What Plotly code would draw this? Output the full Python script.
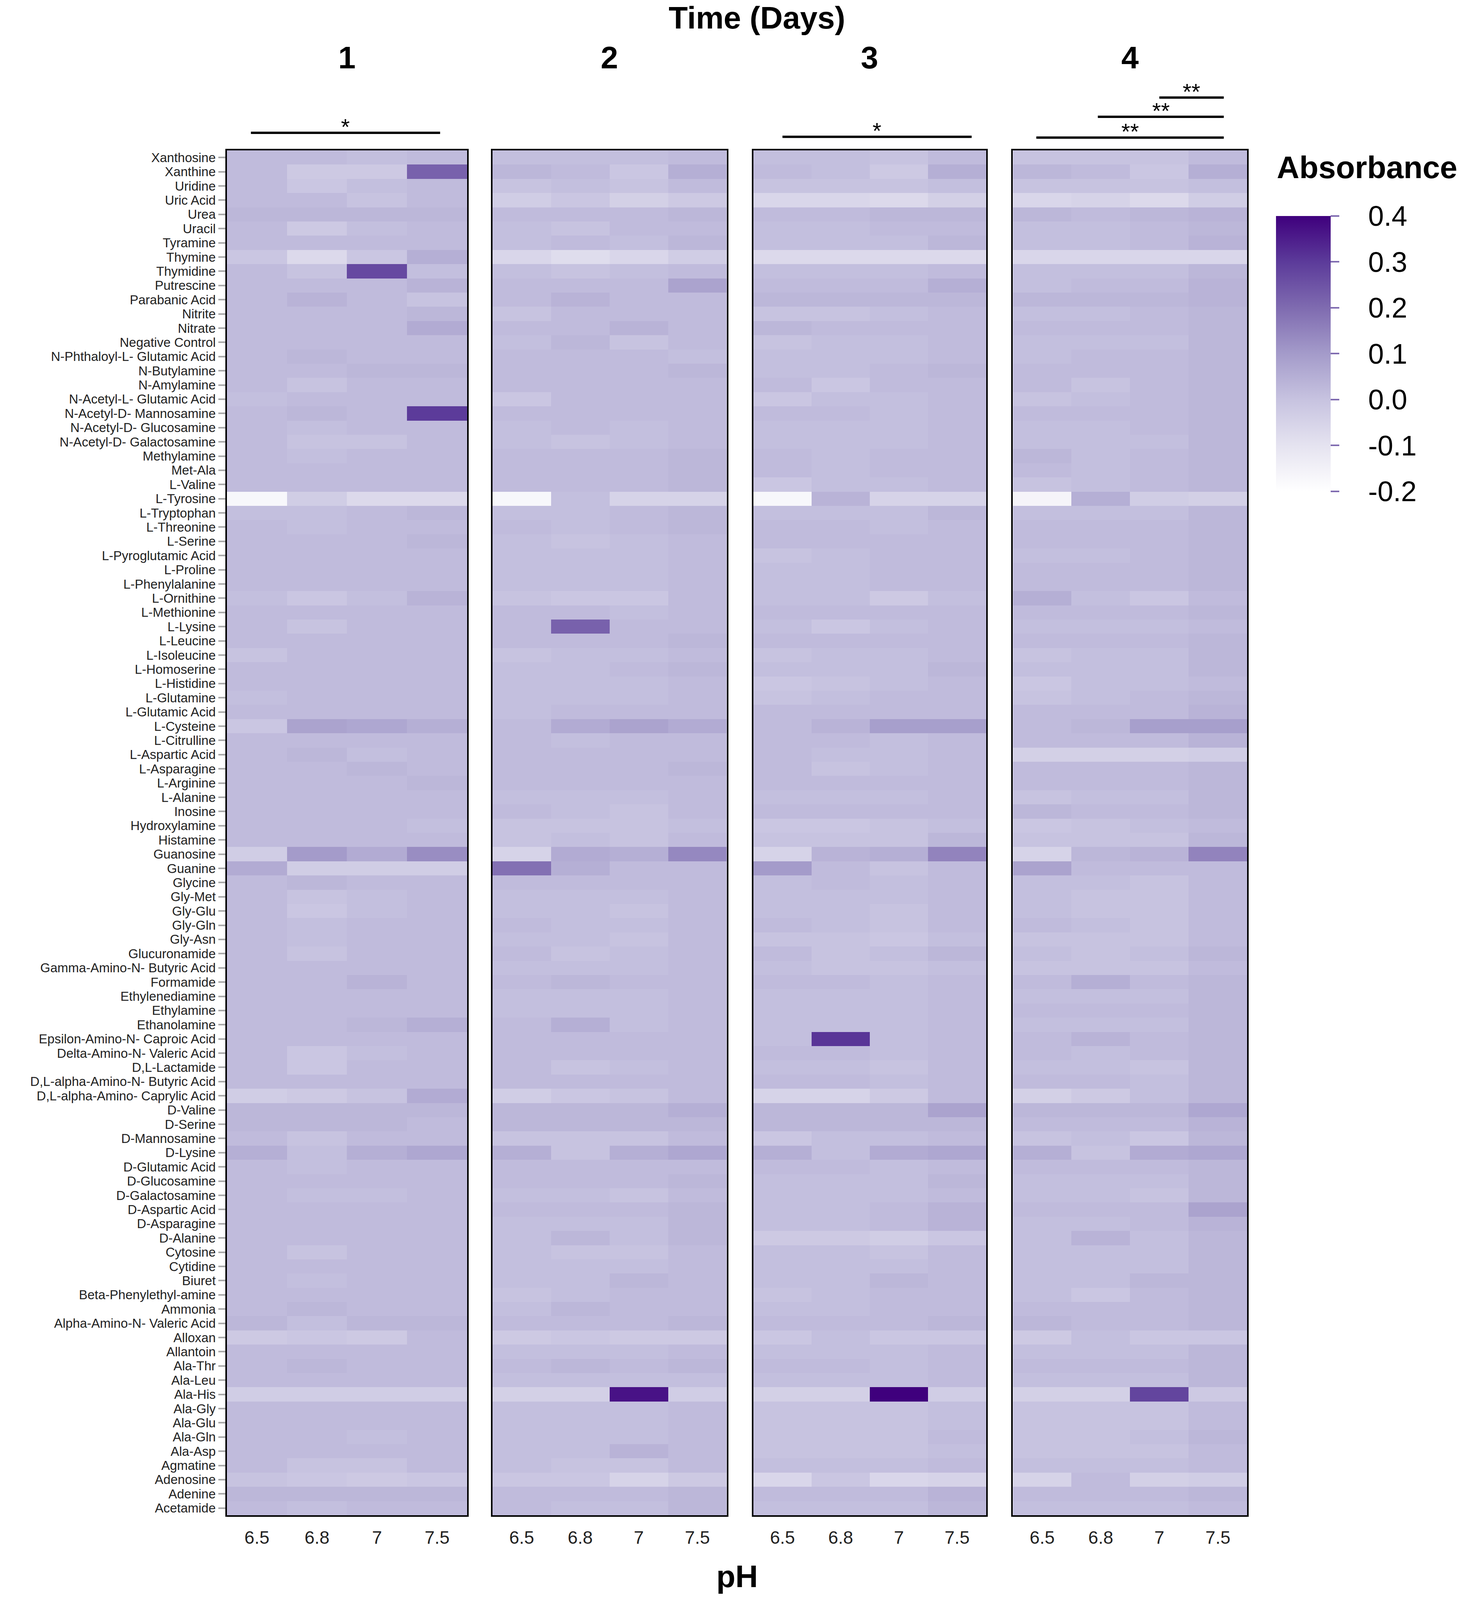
import plotly.graph_objects as go
from plotly.subplots import make_subplots

compounds = [
    "Xanthosine", "Xanthine", "Uridine", "Uric Acid", "Urea", "Uracil", "Tyramine",
    "Thymine", "Thymidine", "Putrescine", "Parabanic Acid", "Nitrite", "Nitrate",
    "Negative Control", "N-Phthaloyl-L- Glutamic Acid", "N-Butylamine", "N-Amylamine",
    "N-Acetyl-L- Glutamic Acid", "N-Acetyl-D- Mannosamine", "N-Acetyl-D- Glucosamine",
    "N-Acetyl-D- Galactosamine", "Methylamine", "Met-Ala", "L-Valine", "L-Tyrosine",
    "L-Tryptophan", "L-Threonine", "L-Serine", "L-Pyroglutamic Acid", "L-Proline",
    "L-Phenylalanine", "L-Ornithine", "L-Methionine", "L-Lysine", "L-Leucine",
    "L-Isoleucine", "L-Homoserine", "L-Histidine", "L-Glutamine", "L-Glutamic Acid",
    "L-Cysteine", "L-Citrulline", "L-Aspartic Acid", "L-Asparagine", "L-Arginine",
    "L-Alanine", "Inosine", "Hydroxylamine", "Histamine", "Guanosine", "Guanine",
    "Glycine", "Gly-Met", "Gly-Glu", "Gly-Gln", "Gly-Asn", "Glucuronamide",
    "Gamma-Amino-N- Butyric Acid", "Formamide", "Ethylenediamine", "Ethylamine",
    "Ethanolamine", "Epsilon-Amino-N- Caproic Acid", "Delta-Amino-N- Valeric Acid",
    "D,L-Lactamide", "D,L-alpha-Amino-N- Butyric Acid", "D,L-alpha-Amino- Caprylic Acid",
    "D-Valine", "D-Serine", "D-Mannosamine", "D-Lysine", "D-Glutamic Acid",
    "D-Glucosamine", "D-Galactosamine", "D-Aspartic Acid", "D-Asparagine", "D-Alanine",
    "Cytosine", "Cytidine", "Biuret", "Beta-Phenylethyl-amine", "Ammonia",
    "Alpha-Amino-N- Valeric Acid", "Alloxan", "Allantoin", "Ala-Thr", "Ala-Leu",
    "Ala-His", "Ala-Gly", "Ala-Glu", "Ala-Gln", "Ala-Asp", "Agmatine", "Adenosine",
    "Adenine", "Acetamide",
]
ph_labels = ["6.5", "6.8", "7", "7.5"]
day_labels = ["1", "2", "3", "4"]

# absorbance per compound (rows) at pH 6.5, 6.8, 7, 7.5
day1 = [
    [0.02, 0.02, 0.01, 0.02], [0.02, -0.02, -0.02, 0.22], [0.02, -0.01, 0.01, 0.02],
    [0.02, 0.02, 0.0, 0.02], [0.03, 0.03, 0.03, 0.03], [0.02, -0.02, 0.01, 0.02],
    [0.02, 0.02, 0.02, 0.02], [-0.01, -0.07, -0.01, 0.05], [0.02, 0.0, 0.27, 0.01],
    [0.02, 0.02, 0.02, 0.04], [0.02, 0.04, 0.02, 0.0], [0.02, 0.02, 0.02, 0.03],
    [0.02, 0.02, 0.02, 0.06], [0.02, 0.02, 0.02, 0.02], [0.02, 0.03, 0.02, 0.02],
    [0.02, 0.02, 0.03, 0.03], [0.02, 0.0, 0.02, 0.02], [0.01, 0.02, 0.02, 0.02],
    [0.02, 0.03, 0.02, 0.30], [0.02, 0.01, 0.02, 0.02], [0.02, 0.0, 0.0, 0.02],
    [0.02, 0.01, 0.02, 0.02], [0.02, 0.02, 0.02, 0.02], [0.02, 0.02, 0.02, 0.02],
    [-0.17, -0.03, -0.07, -0.07], [0.01, 0.01, 0.02, 0.03], [0.02, 0.01, 0.02, 0.02],
    [0.02, 0.02, 0.02, 0.03], [0.02, 0.02, 0.02, 0.02], [0.02, 0.02, 0.02, 0.02],
    [0.02, 0.02, 0.02, 0.02], [0.01, -0.01, 0.01, 0.04], [0.02, 0.02, 0.02, 0.02],
    [0.02, 0.0, 0.02, 0.02], [0.02, 0.02, 0.02, 0.02], [0.0, 0.02, 0.02, 0.02],
    [0.02, 0.02, 0.02, 0.02], [0.02, 0.02, 0.02, 0.02], [0.01, 0.02, 0.02, 0.02],
    [0.02, 0.02, 0.02, 0.02], [-0.01, 0.08, 0.07, 0.05], [0.02, 0.02, 0.02, 0.02],
    [0.02, 0.03, 0.01, 0.02], [0.02, 0.02, 0.03, 0.02], [0.02, 0.02, 0.02, 0.03],
    [0.02, 0.02, 0.02, 0.02], [0.02, 0.02, 0.02, 0.02], [0.02, 0.02, 0.02, 0.01],
    [0.02, 0.02, 0.02, 0.02], [-0.03, 0.10, 0.06, 0.13], [0.06, -0.03, -0.03, -0.03],
    [0.02, 0.03, 0.02, 0.02], [0.02, 0.0, 0.01, 0.02], [0.02, -0.01, 0.01, 0.02],
    [0.02, 0.01, 0.02, 0.02], [0.02, 0.01, 0.02, 0.02], [0.02, 0.0, 0.02, 0.02],
    [0.02, 0.02, 0.02, 0.02], [0.02, 0.02, 0.04, 0.02], [0.02, 0.02, 0.02, 0.02],
    [0.02, 0.02, 0.02, 0.02], [0.02, 0.02, 0.03, 0.05], [0.02, 0.02, 0.02, 0.02],
    [0.02, -0.01, 0.01, 0.02], [0.02, -0.01, 0.02, 0.02], [0.02, 0.02, 0.02, 0.02],
    [-0.03, -0.02, 0.0, 0.06], [0.03, 0.03, 0.03, 0.03], [0.03, 0.03, 0.03, 0.02],
    [0.02, 0.0, 0.02, 0.02], [0.05, 0.01, 0.05, 0.07], [0.02, 0.01, 0.02, 0.02],
    [0.02, 0.02, 0.02, 0.02], [0.02, 0.01, 0.01, 0.02], [0.02, 0.02, 0.02, 0.02],
    [0.02, 0.02, 0.02, 0.02], [0.02, 0.02, 0.02, 0.02], [0.02, 0.0, 0.02, 0.02],
    [0.02, 0.02, 0.02, 0.02], [0.02, 0.01, 0.02, 0.02], [0.02, 0.02, 0.02, 0.02],
    [0.02, 0.03, 0.02, 0.02], [0.03, 0.01, 0.03, 0.03], [-0.02, -0.01, -0.02, 0.02],
    [0.02, 0.02, 0.02, 0.02], [0.02, 0.03, 0.02, 0.02], [0.02, 0.02, 0.02, 0.02],
    [-0.03, -0.03, -0.03, -0.03], [0.02, 0.02, 0.02, 0.02], [0.02, 0.02, 0.02, 0.02],
    [0.02, 0.02, 0.01, 0.02], [0.02, 0.02, 0.02, 0.02], [0.02, 0.0, 0.0, 0.02],
    [0.0, -0.01, -0.02, -0.01], [0.03, 0.03, 0.03, 0.03], [0.02, 0.01, 0.02, 0.02],
]
day2 = [
    [0.01, 0.01, 0.01, 0.02], [0.03, 0.02, -0.01, 0.05], [0.0, 0.01, 0.0, 0.02],
    [-0.03, -0.01, -0.04, -0.02], [0.02, 0.02, 0.02, 0.03], [0.01, 0.0, 0.02, 0.02],
    [0.01, 0.02, 0.01, 0.03], [-0.06, -0.08, -0.06, -0.03], [0.01, 0.0, 0.01, 0.02],
    [0.02, 0.02, 0.02, 0.08], [0.02, 0.04, 0.02, 0.02], [0.0, 0.02, 0.02, 0.02],
    [0.02, 0.02, 0.04, 0.02], [0.01, 0.03, 0.0, 0.02], [0.02, 0.02, 0.02, 0.01],
    [0.02, 0.02, 0.02, 0.03], [0.02, 0.02, 0.02, 0.02], [-0.01, 0.02, 0.02, 0.02],
    [0.02, 0.02, 0.02, 0.02], [0.01, 0.02, 0.01, 0.02], [0.01, 0.0, 0.01, 0.02],
    [0.02, 0.02, 0.02, 0.03], [0.02, 0.02, 0.02, 0.03], [0.02, 0.02, 0.02, 0.03],
    [-0.17, 0.01, -0.05, -0.05], [0.01, 0.01, 0.02, 0.03], [0.02, 0.01, 0.02, 0.03],
    [0.01, 0.0, 0.01, 0.02], [0.01, 0.01, 0.01, 0.02], [0.01, 0.01, 0.01, 0.02],
    [0.01, 0.01, 0.01, 0.02], [0.0, -0.01, -0.01, 0.02], [0.02, 0.02, 0.01, 0.02],
    [0.02, 0.22, 0.02, 0.02], [0.02, 0.02, 0.02, 0.03], [0.0, 0.01, 0.01, 0.02],
    [0.01, 0.01, 0.02, 0.03], [0.01, 0.01, 0.01, 0.02], [0.01, 0.01, 0.01, 0.02],
    [0.01, 0.02, 0.02, 0.02], [0.02, 0.06, 0.08, 0.06], [0.02, 0.01, 0.02, 0.02],
    [0.02, 0.02, 0.02, 0.02], [0.02, 0.02, 0.02, 0.03], [0.02, 0.02, 0.02, 0.02],
    [0.01, 0.01, 0.01, 0.02], [0.02, 0.01, 0.0, 0.02], [0.0, 0.0, 0.0, 0.01],
    [0.0, 0.01, 0.0, 0.02], [-0.05, 0.06, 0.05, 0.14], [0.19, 0.05, 0.02, 0.02],
    [0.02, 0.02, 0.02, 0.02], [0.01, 0.01, 0.01, 0.02], [0.01, 0.01, 0.0, 0.02],
    [0.02, 0.01, 0.01, 0.02], [0.01, 0.01, 0.0, 0.02], [0.02, 0.0, 0.01, 0.02],
    [0.01, 0.01, 0.01, 0.02], [0.02, 0.03, 0.02, 0.02], [0.01, 0.01, 0.01, 0.02],
    [0.01, 0.01, 0.01, 0.02], [0.02, 0.05, 0.01, 0.02], [0.02, 0.02, 0.02, 0.02],
    [0.02, 0.02, 0.02, 0.02], [0.02, 0.0, 0.01, 0.02], [0.02, 0.02, 0.02, 0.02],
    [-0.03, -0.01, 0.0, 0.02], [0.03, 0.03, 0.03, 0.05], [0.03, 0.03, 0.03, 0.03],
    [0.0, 0.0, 0.0, 0.02], [0.05, 0.0, 0.05, 0.07], [0.02, 0.02, 0.02, 0.02],
    [0.02, 0.02, 0.02, 0.03], [0.01, 0.01, 0.0, 0.02], [0.02, 0.02, 0.02, 0.03],
    [0.01, 0.01, 0.01, 0.03], [0.01, 0.03, 0.01, 0.03], [0.01, 0.0, 0.0, 0.02],
    [0.01, 0.01, 0.01, 0.02], [0.01, 0.01, 0.03, 0.02], [0.0, 0.01, 0.02, 0.02],
    [0.01, 0.03, 0.02, 0.02], [0.02, 0.02, 0.02, 0.03], [-0.02, -0.01, -0.02, -0.02],
    [0.01, 0.01, 0.01, 0.02], [0.02, 0.03, 0.02, 0.03], [0.01, 0.01, 0.01, 0.01],
    [-0.04, -0.04, 0.37, -0.03], [0.01, 0.01, 0.01, 0.02], [0.01, 0.01, 0.01, 0.02],
    [0.01, 0.01, 0.01, 0.02], [0.01, 0.01, 0.04, 0.02], [0.01, 0.0, 0.0, 0.02],
    [-0.01, -0.01, -0.05, -0.02], [0.02, 0.02, 0.02, 0.03], [0.02, 0.01, 0.01, 0.03],
]
day3 = [
    [0.01, 0.01, 0.0, 0.02], [0.02, 0.01, -0.02, 0.05], [0.0, 0.0, 0.0, 0.01],
    [-0.06, -0.06, -0.07, -0.04], [0.02, 0.02, 0.03, 0.03], [0.01, 0.01, 0.02, 0.02],
    [0.01, 0.01, 0.01, 0.03], [-0.07, -0.07, -0.07, -0.07], [0.01, 0.01, 0.01, 0.02],
    [0.02, 0.02, 0.02, 0.05], [0.03, 0.03, 0.03, 0.03], [0.0, 0.0, 0.01, 0.02],
    [0.03, 0.02, 0.02, 0.02], [0.0, 0.01, 0.01, 0.02], [0.01, 0.01, 0.01, 0.02],
    [0.01, 0.01, 0.02, 0.03], [0.02, -0.01, 0.02, 0.02], [-0.01, 0.01, 0.01, 0.02],
    [0.02, 0.02, 0.01, 0.02], [0.01, 0.01, 0.01, 0.02], [0.01, 0.01, 0.01, 0.02],
    [0.02, 0.01, 0.02, 0.02], [0.02, 0.01, 0.02, 0.02], [-0.01, 0.01, 0.01, 0.02],
    [-0.17, 0.04, -0.05, -0.05], [0.01, 0.01, 0.01, 0.03], [0.02, 0.02, 0.01, 0.02],
    [0.02, 0.02, 0.02, 0.02], [0.0, 0.01, 0.02, 0.02], [0.01, 0.01, 0.02, 0.02],
    [0.01, 0.01, 0.02, 0.02], [0.01, 0.01, -0.02, 0.01], [0.02, 0.02, 0.02, 0.02],
    [0.01, -0.01, 0.01, 0.02], [0.02, 0.02, 0.02, 0.02], [0.0, 0.01, 0.01, 0.02],
    [0.01, 0.01, 0.01, 0.03], [-0.01, 0.0, 0.01, 0.02], [0.0, 0.01, 0.02, 0.02],
    [0.02, 0.02, 0.02, 0.02], [0.02, 0.04, 0.09, 0.09], [0.02, 0.02, 0.01, 0.02],
    [0.02, 0.01, 0.01, 0.02], [0.02, 0.0, 0.01, 0.02], [0.02, 0.02, 0.02, 0.02],
    [0.01, 0.01, 0.01, 0.02], [0.02, 0.02, 0.02, 0.02], [-0.01, -0.01, 0.0, 0.01],
    [0.0, 0.0, 0.0, 0.03], [-0.05, 0.04, 0.05, 0.15], [0.10, 0.02, 0.0, 0.02],
    [0.01, 0.02, 0.01, 0.02], [0.01, 0.01, 0.01, 0.02], [0.01, 0.01, 0.0, 0.02],
    [0.02, 0.01, 0.0, 0.02], [0.0, 0.0, -0.01, 0.01], [0.02, 0.0, 0.01, 0.03],
    [0.01, 0.0, 0.0, 0.01], [0.02, 0.02, 0.01, 0.02], [0.01, 0.01, 0.01, 0.02],
    [0.01, 0.01, 0.01, 0.02], [0.01, 0.01, 0.01, 0.02], [0.01, 0.31, 0.01, 0.02],
    [0.02, 0.02, 0.01, 0.02], [0.01, 0.01, 0.0, 0.02], [0.02, 0.02, 0.01, 0.02],
    [-0.05, -0.05, -0.02, 0.02], [0.03, 0.03, 0.03, 0.08], [0.03, 0.03, 0.03, 0.03],
    [-0.01, 0.01, 0.01, 0.02], [0.05, 0.01, 0.06, 0.07], [0.02, 0.02, 0.01, 0.02],
    [0.01, 0.01, 0.01, 0.03], [0.01, 0.01, 0.01, 0.02], [0.01, 0.01, 0.02, 0.04],
    [0.01, 0.01, 0.02, 0.04], [-0.02, -0.02, -0.03, -0.01], [0.01, 0.01, 0.0, 0.02],
    [0.01, 0.01, 0.01, 0.02], [0.01, 0.01, 0.03, 0.02], [0.0, 0.01, 0.02, 0.02],
    [0.01, 0.01, 0.02, 0.02], [0.02, 0.02, 0.02, 0.03], [-0.01, 0.01, -0.01, -0.01],
    [0.01, 0.01, 0.01, 0.02], [0.02, 0.02, 0.01, 0.02], [0.01, 0.01, 0.01, 0.02],
    [-0.04, -0.04, 0.40, -0.03], [0.0, 0.0, 0.0, 0.01], [0.0, 0.0, 0.0, 0.01],
    [0.0, 0.0, 0.0, 0.02], [0.0, 0.0, 0.0, 0.01], [0.01, 0.01, 0.01, 0.02],
    [-0.06, -0.01, -0.06, -0.05], [0.02, 0.02, 0.02, 0.04], [0.01, 0.01, 0.01, 0.03],
]
day4 = [
    [0.0, 0.0, 0.0, 0.02], [0.03, 0.02, -0.01, 0.05], [0.0, 0.0, 0.0, 0.01],
    [-0.06, -0.05, -0.07, -0.03], [0.03, 0.02, 0.03, 0.04], [0.01, 0.01, 0.02, 0.03],
    [0.01, 0.01, 0.02, 0.04], [-0.06, -0.06, -0.06, -0.06], [0.01, 0.01, 0.01, 0.03],
    [0.01, 0.02, 0.02, 0.04], [0.03, 0.03, 0.03, 0.04], [0.01, 0.01, 0.02, 0.03],
    [0.02, 0.02, 0.02, 0.03], [0.01, 0.01, 0.01, 0.03], [0.01, 0.02, 0.02, 0.03],
    [0.02, 0.02, 0.02, 0.03], [0.02, 0.0, 0.02, 0.03], [0.0, 0.01, 0.02, 0.03],
    [0.02, 0.02, 0.02, 0.03], [0.01, 0.01, 0.02, 0.03], [0.01, 0.01, 0.01, 0.03],
    [0.03, 0.01, 0.02, 0.03], [0.02, 0.01, 0.02, 0.03], [0.0, 0.01, 0.02, 0.03],
    [-0.16, 0.05, -0.03, -0.04], [0.01, 0.01, 0.01, 0.03], [0.02, 0.02, 0.02, 0.03],
    [0.02, 0.02, 0.02, 0.03], [0.01, 0.01, 0.02, 0.03], [0.02, 0.02, 0.02, 0.03],
    [0.02, 0.02, 0.02, 0.03], [0.05, 0.01, -0.01, 0.02], [0.02, 0.02, 0.02, 0.03],
    [0.01, 0.01, 0.01, 0.02], [0.02, 0.02, 0.02, 0.03], [0.0, 0.01, 0.01, 0.03],
    [0.01, 0.01, 0.01, 0.03], [-0.01, 0.01, 0.01, 0.02], [0.0, 0.01, 0.02, 0.03],
    [0.02, 0.02, 0.02, 0.04], [0.02, 0.03, 0.09, 0.09], [0.02, 0.02, 0.02, 0.04],
    [-0.04, -0.04, -0.04, -0.03], [0.02, 0.02, 0.02, 0.03], [0.02, 0.02, 0.02, 0.03],
    [0.0, 0.01, 0.01, 0.03], [0.03, 0.02, 0.02, 0.03], [-0.01, 0.0, 0.01, 0.02],
    [0.0, 0.0, 0.0, 0.03], [-0.05, 0.03, 0.04, 0.15], [0.08, 0.02, 0.02, 0.02],
    [0.01, 0.01, 0.0, 0.02], [0.01, 0.0, 0.0, 0.02], [0.01, 0.0, 0.0, 0.02],
    [0.02, 0.01, 0.0, 0.02], [0.0, 0.0, 0.0, 0.02], [0.01, 0.0, 0.01, 0.03],
    [0.0, 0.0, 0.0, 0.02], [0.02, 0.05, 0.02, 0.03], [0.01, 0.01, 0.01, 0.03],
    [0.02, 0.02, 0.02, 0.03], [0.01, 0.01, 0.01, 0.03], [0.02, 0.04, 0.02, 0.03],
    [0.02, 0.01, 0.02, 0.03], [0.01, 0.01, 0.0, 0.03], [0.02, 0.02, 0.01, 0.03],
    [-0.04, -0.02, 0.01, 0.03], [0.03, 0.03, 0.03, 0.07], [0.02, 0.02, 0.02, 0.04],
    [0.0, 0.01, -0.01, 0.03], [0.05, 0.0, 0.06, 0.07], [0.02, 0.02, 0.02, 0.03],
    [0.01, 0.01, 0.01, 0.03], [0.01, 0.01, 0.0, 0.03], [0.02, 0.02, 0.02, 0.08],
    [0.01, 0.01, 0.02, 0.04], [0.01, 0.04, 0.01, 0.03], [0.01, 0.01, 0.01, 0.03],
    [0.01, 0.01, 0.01, 0.03], [0.01, 0.01, 0.03, 0.03], [0.01, -0.01, 0.02, 0.03],
    [0.02, 0.02, 0.02, 0.03], [0.03, 0.02, 0.02, 0.03], [-0.02, 0.01, -0.01, -0.01],
    [0.01, 0.01, 0.01, 0.03], [0.02, 0.02, 0.02, 0.03], [0.01, 0.01, 0.01, 0.03],
    [-0.04, -0.04, 0.28, -0.02], [0.0, 0.0, 0.0, 0.02], [0.0, 0.0, 0.0, 0.02],
    [0.0, 0.0, 0.01, 0.03], [0.0, 0.0, 0.0, 0.02], [0.01, 0.01, 0.01, 0.02],
    [-0.05, 0.02, -0.04, -0.03], [0.02, 0.02, 0.02, 0.03], [0.01, 0.01, 0.01, 0.02],
]

# significance brackets: (panel, from column, to column, label, height)
sig_bars = [
    (1, -0.1, 3.05, "*", 0.917),
    (3, 0.0, 3.25, "*", 0.9145),
    (4, -0.1, 3.1, "**", 0.914),
    (4, 0.95, 3.1, "**", 0.927),
    (4, 2.0, 3.1, "**", 0.939),
]
cbar_vals = [-0.2, -0.1, 0.0, 0.1, 0.2, 0.3, 0.4]

font = "Liberation Sans"
purples = [
    [0.0, "#ffffff"], [0.1667, "#e5e3f0"], [0.3333, "#c7c3e0"], [0.5, "#a49bca"],
    [0.6667, "#7f6bb0"], [0.8333, "#5c3b9a"], [1.0, "#3f007d"],
]

fig = make_subplots(rows=1, cols=4, shared_yaxes=True)
for i, data in enumerate([day1, day2, day3, day4]):
    fig.add_trace(go.Heatmap(
        z=data, x=ph_labels, y=compounds, coloraxis="coloraxis",
    ), row=1, col=i + 1)

domains = [[0.153, 0.315], [0.332, 0.490], [0.508, 0.665], [0.683, 0.841]]
ydom = [0.053, 0.906]

for i, dom in enumerate(domains):
    sfx = "" if i == 0 else str(i + 1)
    fig.layout["xaxis" + sfx].update(
        domain=dom, type="category", showline=True, mirror=True, linecolor="black",
        linewidth=4, ticks="", ticklabelstandoff=14,
        tickfont=dict(family=font, size=46, color="#222222"),
    )
    fig.layout["yaxis" + sfx].update(
        domain=ydom, type="category", categoryorder="array", categoryarray=compounds,
        autorange="reversed", showline=True, mirror=True, linecolor="black", linewidth=4,
        tickmode="linear", tick0=0, dtick=1,
    )

fig.update_yaxes(
    ticks="outside", ticklen=18, tickwidth=4, tickcolor="#aaaaaa",
    tickfont=dict(family=font, size=33, color="#222222"), row=1, col=1,
)

ann = [
    dict(text="<b>Time (Days)</b>", x=0.5105, y=0.989, font=dict(size=80)),
    dict(text="<b>pH</b>", x=0.497, y=0.0147, font=dict(size=80)),
    dict(text="<b>Absorbance</b>", x=0.8604, y=0.8954, xanchor="left",
         font=dict(size=80)),
]
for dom, lab in zip(domains, day_labels):
    ann.append(dict(text="<b>" + lab + "</b>", x=(dom[0] + dom[1]) / 2, y=0.964,
                    font=dict(size=80)))
for a in ann:
    a.setdefault("xanchor", "center")
    a.update(xref="paper", yref="paper", showarrow=False, yanchor="middle")
    a["font"]["family"] = font
    a["font"]["color"] = "black"
    fig.add_annotation(**a)

for panel, x0, x1, lab, yb in sig_bars:
    xr = "x" if panel == 1 else "x" + str(panel)
    fig.add_shape(type="line", xref=xr, yref="paper", x0=x0, x1=x1, y0=yb, y1=yb,
                  line=dict(color="black", width=6))
    fig.add_annotation(text=lab, xref=xr, yref="paper", x=(x0 + x1) / 2, y=yb + 0.0038,
                       yanchor="middle", showarrow=False,
                       font=dict(family=font, size=58, color="black"))

pad = "\u00a0\u00a0\u00a0"
fig.update_layout(
    width=3797, height=4826,
    margin=dict(l=0, r=0, t=0, b=0),
    paper_bgcolor="white", plot_bgcolor="white",
    font=dict(family=font, color="black"),
    coloraxis=dict(
        colorscale=purples, cmin=-0.2, cmax=0.4,
        colorbar=dict(
            x=0.8604, xanchor="left", xpad=0,
            y=0.865, yanchor="top", ypad=0, len=0.172, lenmode="fraction",
            thickness=140, outlinewidth=0,
            tickvals=cbar_vals,
            ticktext=[pad + ("%.1f" % v) for v in cbar_vals],
            ticks="outside", ticklen=22, tickwidth=4, tickcolor="#7f6bb0",
            tickfont=dict(family=font, size=72, color="black"),
        ),
    ),
)

# fit the figure to the visible window so nothing falls below the fold
fit = (
    "var gd=document.getElementById('{plot_id}');"
    "document.body.style.margin='0';"
    "Plotly.relayout(gd, {width: window.innerWidth, height: window.innerHeight});"
)
fig.write_html("out.html", post_script=fit, config={"displayModeBar": False})
